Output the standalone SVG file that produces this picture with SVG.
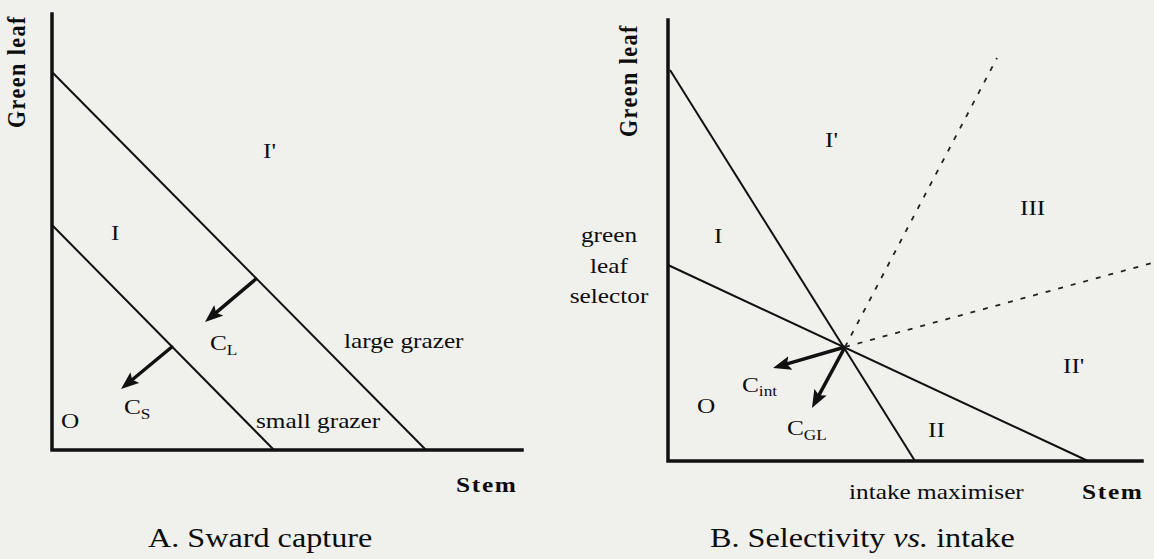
<svg xmlns="http://www.w3.org/2000/svg" width="1154" height="559" viewBox="0 0 1154 559">
  <style>
    .t { font-family: "Liberation Serif", "Times New Roman", serif; font-size: 22px; fill: #0d0d0d; }
    .cap { font-size: 28px; }
    .b { font-weight: bold; letter-spacing: 1.5px; }
    .sub { font-size: 15px; }
    .axis { stroke: #111; stroke-width: 3.5; fill: none; stroke-linecap: square; }
    .ln { stroke: #111; stroke-width: 2; fill: none; }
    .dash { stroke: #222; stroke-width: 1.8; fill: none; stroke-dasharray: 5 8; }
    .arr { stroke: #111; stroke-width: 3.5; fill: none; marker-end: url(#head); }
  </style>
  <defs>
    <marker id="head" viewBox="0 0 18 14" markerWidth="18" markerHeight="14" markerUnits="userSpaceOnUse" refX="7" refY="7" orient="auto">
      <path d="M0,0 L18,7 L0,14 L3.5,7 z" fill="#111"/>
    </marker>
  </defs>
  <rect x="0" y="0" width="1154" height="559" fill="#f0f0ec"/>

  <!-- Panel A -->
  <g id="panelA">
    <g id="axesA">
      <polyline class="axis" points="52,14 52,450 522,450"/>
    </g>
    <g id="linesA">
      <line class="ln" x1="52" y1="72" x2="426" y2="450"/>
      <line class="ln" x1="52" y1="225" x2="274" y2="450"/>
    </g>
    <g id="arrowsA">
      <line class="arr" x1="257" y1="278" x2="213.4" y2="314.9"/>
      <line class="arr" x1="173" y1="346" x2="129.5" y2="382"/>
    </g>
    <g id="labelsA">
      <text class="t b" transform="translate(25,128) rotate(-90) scale(1,1.15)">Green leaf</text>
      <text class="t" transform="translate(263,158) scale(1.15,1)">I'</text>
      <text class="t" transform="translate(111,240) scale(1.15,1)">I</text>
      <text class="t" transform="translate(210,350) scale(1.15,1)">C<tspan class="sub" dy="5">L</tspan></text>
      <text class="t" transform="translate(344,348) scale(1.15,1)">large grazer</text>
      <text class="t" transform="translate(124,414) scale(1.15,1)">C<tspan class="sub" dy="5">S</tspan></text>
      <text class="t" transform="translate(61,428) scale(1.15,1)">O</text>
      <text class="t" transform="translate(256,428) scale(1.15,1)">small grazer</text>
      <text class="t b" transform="translate(456,492) scale(1.15,1)">Stem</text>
      <text class="t cap" transform="translate(148,547) scale(1.15,1)">A. Sward capture</text>
    </g>
  </g>

  <!-- Panel B -->
  <g id="panelB">
    <g id="axesB">
      <polyline class="axis" points="668,20 668,461 1142,461"/>
    </g>
    <g id="linesB">
      <line class="ln" x1="670" y1="70" x2="915" y2="461"/>
      <line class="ln" x1="668" y1="265" x2="1088" y2="461"/>
      <line class="dash" x1="845" y1="347" x2="997" y2="58"/>
      <line class="dash" x1="845" y1="347" x2="1152" y2="263"/>
    </g>
    <g id="arrowsB">
      <line class="arr" x1="845" y1="347" x2="783.6" y2="364.9"/>
      <line class="arr" x1="845" y1="347" x2="817.2" y2="398.3"/>
    </g>
    <g id="labelsB">
      <text class="t b" transform="translate(637,137) rotate(-90) scale(1,1.15)">Green leaf</text>
      <text class="t" transform="translate(825,147) scale(1.15,1)">I'</text>
      <text class="t" transform="translate(1020,215) scale(1.15,1)">III</text>
      <text class="t" transform="translate(714,243) scale(1.15,1)">I</text>
      <text class="t" text-anchor="middle" transform="translate(609,242) scale(1.15,1)">green</text>
      <text class="t" text-anchor="middle" transform="translate(609,273) scale(1.15,1)">leaf</text>
      <text class="t" text-anchor="middle" transform="translate(609,303) scale(1.15,1)">selector</text>
      <text class="t" transform="translate(1063,373) scale(1.15,1)">II'</text>
      <text class="t" transform="translate(742,392) scale(1.15,1)">C<tspan class="sub" dy="4">int</tspan></text>
      <text class="t" transform="translate(697,413) scale(1.15,1)">O</text>
      <text class="t" transform="translate(787,435) scale(1.15,1)">C<tspan class="sub" dy="5">GL</tspan></text>
      <text class="t" transform="translate(928,437) scale(1.15,1)">II</text>
      <text class="t" transform="translate(849,499) scale(1.15,1)">intake maximiser</text>
      <text class="t b" transform="translate(1082,499) scale(1.15,1)">Stem</text>
      <text class="t cap" transform="translate(710,547) scale(1.15,1)">B. Selectivity <tspan font-style="italic">vs.</tspan> intake</text>
    </g>
  </g>
</svg>
